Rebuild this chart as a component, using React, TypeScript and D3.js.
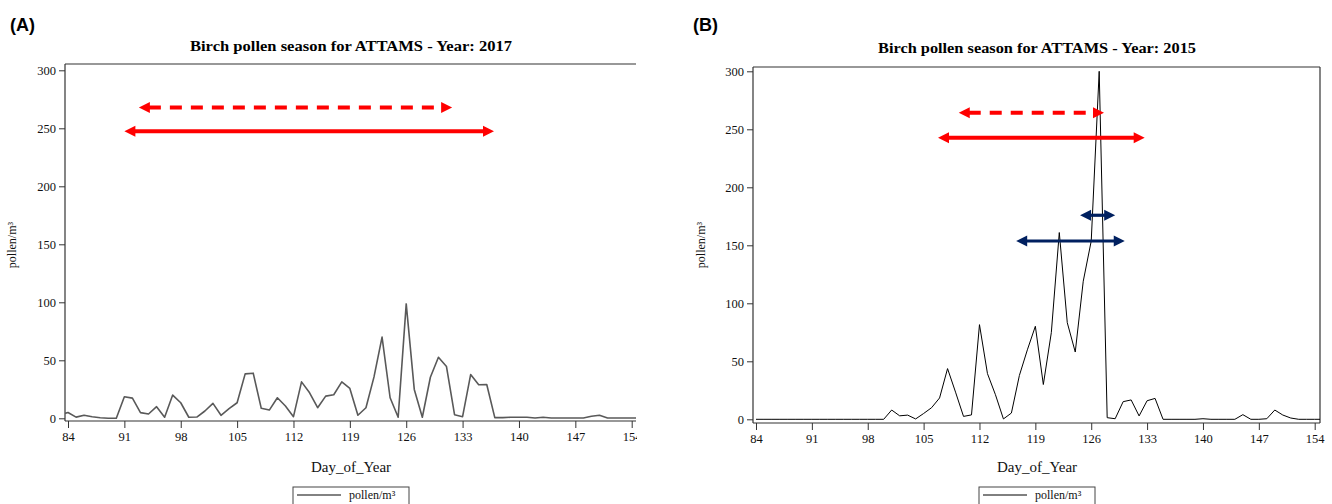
import { useEffect, useRef } from 'react';
import * as d3 from 'd3';

// Daily birch pollen counts (pollen/m³), panel A starts on day 83, panel B on day 84
const firstDay2017 = 83;
const pollen2017 = [
  3, 5, 1, 2.6, 1.4, 0.5, 0, 0, 18.6, 17.4, 4.9, 3.7, 10, 0.9, 20, 13.4, 0.9, 1.1,
  6.3, 12.9, 2.6, 8.3, 13.4, 38.3, 38.9, 8.6, 7.1, 17.7, 10.6, 1.4, 31.4, 22, 9.1,
  19.1, 20.3, 31.4, 25.7, 2.6, 9.1, 35.7, 70, 17.7, 0.9, 98.6, 24.9, 0.9, 35.4, 52.6,
  44.6, 3.1, 1.4, 37.7, 28.9, 29.1, 0.6, 0.6, 0.9, 0.9, 0.9, 0.3, 0.9, 0.3, 0.3, 0.3,
  0.3, 0.3, 1.7, 2.6, 0.3, 0.3, 0.3, 0.3, 0.3,
];

const firstDay2015 = 84;
const pollen2015 = [
  0, 0, 0, 0, 0, 0, 0, 0, 0, 0, 0, 0, 0, 0, 0, 0, 0, 8, 3, 3.6, 0.3, 5, 10, 18.4,
  43.7, 23.4, 2.5, 3.8, 81.6, 39.4, 21.2, 0.3, 5.4, 37.8, 59.9, 80.2, 30, 74.7, 161,
  83.3, 58, 119, 153.7, 300, 1.4, 0.5, 15.2, 16.7, 2.9, 16, 18, 0, 0, 0, 0, 0, 0.5, 0,
  0, 0, 0, 4, 0, 0, 0.5, 8, 3.7, 1.1, 0, 0, 0, 0,
];

const dayTicks = [84, 91, 98, 105, 112, 119, 126, 133, 140, 147, 154];
const pollenTicks = [0, 50, 100, 150, 200, 250, 300];

// season arrows: start day, end day, pollen level
type Arrow = { from: number; to: number; at: number; kind: string };
const arrows2017: Arrow[] = [
  { from: 92.8, to: 131.7, at: 268, kind: 'redDashed' },
  { from: 91.0, to: 136.9, at: 247.5, kind: 'red' },
];
const arrows2015: Arrow[] = [
  { from: 109.4, to: 127.6, at: 264.3, kind: 'redDashed' },
  { from: 106.8, to: 132.7, at: 242.8, kind: 'red' },
  { from: 124.6, to: 129.0, at: 175.9, kind: 'navy' },
  { from: 116.6, to: 130.2, at: 153.7, kind: 'navy' },
];

const arrowStyle: Record<string, { color: string; width: number; dash: string | null }> = {
  redDashed: { color: '#ff0000', width: 4, dash: '12,9' },
  red: { color: '#ff0000', width: 4, dash: null },
  navy: { color: '#002060', width: 3.2, dash: null },
};

type Layout = {
  tag: string;
  title: string;
  tagX: number;
  left: number;
  right: number;
  top: number;
  bottom: number;
  x0: number;
  x1: number;
  y0: number;
  y1: number;
  rightBorder: boolean;
  labelEdge: number;
  lineColor: string;
  lineWidth: number;
  titleY: number;
  titleLen: number;
  cx: number;
  yLabelX: number;
  legendX: number;
};

const serif = "'Liberation Serif', 'Times New Roman', serif";

function drawPanel(
  svg: d3.Selection<SVGSVGElement, unknown, null, undefined>,
  L: Layout,
  firstDay: number,
  values: number[],
  arrows: Arrow[],
) {
  const g = svg.append('g');
  const x = d3.scaleLinear().domain([84, 154]).range([L.x0, L.x1]);
  const y = d3.scaleLinear().domain([0, 300]).range([L.y0, L.y1]);

  const clipId = 'clip-' + L.tag;
  g.append('clipPath')
    .attr('id', clipId)
    .append('rect')
    .attr('x', L.left)
    .attr('y', L.top)
    .attr('width', L.right - L.left)
    .attr('height', L.bottom - L.top);

  // tick labels are cut at the panel's edge (axis group coordinates)
  const labelClip = 'lclip-' + L.tag;
  g.append('clipPath')
    .attr('id', labelClip)
    .append('rect')
    .attr('x', L.left - 20)
    .attr('y', -2)
    .attr('width', L.labelEdge - L.left + 20)
    .attr('height', 40);

  // panel tag
  g.append('text')
    .attr('x', L.tagX)
    .attr('y', 31)
    .attr('font-family', "'Liberation Sans', Arial, sans-serif")
    .attr('font-weight', 'bold')
    .attr('font-size', 18)
    .text(`(${L.tag})`);

  // title
  g.append('text')
    .attr('x', L.cx)
    .attr('y', L.titleY)
    .attr('text-anchor', 'middle')
    .attr('font-family', serif)
    .attr('font-weight', 'bold')
    .attr('font-size', 14.5)
    .attr('textLength', L.titleLen)
    .attr('lengthAdjust', 'spacingAndGlyphs')
    .text(L.title);

  // frame
  const frame = g.append('g').attr('stroke', '#333').attr('stroke-width', 1.2).attr('fill', 'none');
  frame.append('line').attr('x1', L.left).attr('x2', L.right).attr('y1', L.top).attr('y2', L.top);
  frame.append('line').attr('x1', L.left).attr('x2', L.left).attr('y1', L.top).attr('y2', L.bottom);
  frame.append('line').attr('x1', L.left).attr('x2', L.right).attr('y1', L.bottom).attr('y2', L.bottom);
  if (L.rightBorder) {
    frame.append('line').attr('x1', L.right).attr('x2', L.right).attr('y1', L.top).attr('y2', L.bottom);
  }

  // x axis
  const xa = g
    .append('g')
    .attr('transform', `translate(0,${L.bottom})`)
    .attr('clip-path', `url(#${labelClip})`)
    .call(d3.axisBottom(x).tickValues(dayTicks).tickSize(7).tickSizeOuter(0).tickPadding(4));
  xa.select('.domain').remove();
  xa.attr('font-family', serif).attr('font-size', 12.5);
  xa.selectAll('line').attr('stroke', '#333');
  xa.selectAll('text').attr('fill', '#111');

  // y axis
  const ya = g
    .append('g')
    .attr('transform', `translate(${L.left},0)`)
    .call(d3.axisLeft(y).tickValues(pollenTicks).tickSize(6).tickSizeOuter(0).tickPadding(3));
  ya.select('.domain').remove();
  ya.attr('font-family', serif).attr('font-size', 12.5);
  ya.selectAll('line').attr('stroke', '#333');
  ya.selectAll('text').attr('fill', '#111');

  // axis labels
  g.append('text')
    .attr('x', L.cx)
    .attr('y', 472)
    .attr('text-anchor', 'middle')
    .attr('font-family', serif)
    .attr('font-size', 15)
    .attr('fill', '#111')
    .text('Day_of_Year');

  g.append('text')
    .attr('transform', `translate(${L.yLabelX},245) rotate(-90)`)
    .attr('text-anchor', 'middle')
    .attr('font-family', serif)
    .attr('font-size', 12)
    .attr('fill', '#111')
    .text('pollen/m³');

  // pollen line
  const line = d3
    .line<number>()
    .x((_, i) => x(firstDay + i))
    .y((d) => y(d));
  g.append('path')
    .datum(values)
    .attr('clip-path', `url(#${clipId})`)
    .attr('fill', 'none')
    .attr('stroke', L.lineColor)
    .attr('stroke-width', L.lineWidth)
    .attr('stroke-linejoin', 'round')
    .attr('d', line);

  // season arrows
  const head = 11;
  const half = 5.5;
  arrows.forEach((a) => {
    const s = arrowStyle[a.kind];
    const xa0 = x(a.from);
    const xb0 = x(a.to);
    const yy = y(a.at);
    g.append('line')
      .attr('x1', xa0 + head - 1)
      .attr('x2', xb0 - head + 1)
      .attr('y1', yy)
      .attr('y2', yy)
      .attr('stroke', s.color)
      .attr('stroke-width', s.width)
      .attr('stroke-dasharray', s.dash);
    g.append('path')
      .attr('fill', s.color)
      .attr('d', `M${xa0},${yy}L${xa0 + head},${yy - half}L${xa0 + head},${yy + half}Z`);
    g.append('path')
      .attr('fill', s.color)
      .attr('d', `M${xb0},${yy}L${xb0 - head},${yy - half}L${xb0 - head},${yy + half}Z`);
  });

  // legend
  const lg = g.append('g').attr('transform', `translate(${L.legendX},487)`);
  lg.append('rect')
    .attr('width', 116)
    .attr('height', 20)
    .attr('fill', 'white')
    .attr('stroke', '#444')
    .attr('stroke-width', 1);
  lg.append('line')
    .attr('x1', 4)
    .attr('x2', 48)
    .attr('y1', 8)
    .attr('y2', 8)
    .attr('stroke', L.lineColor)
    .attr('stroke-width', L.lineWidth);
  lg.append('text')
    .attr('x', 56)
    .attr('y', 12)
    .attr('font-family', serif)
    .attr('font-size', 12)
    .attr('fill', '#111')
    .text('pollen/m³');
}

const layoutA: Layout = {
  tag: 'A',
  title: 'Birch pollen season for ATTAMS - Year: 2017',
  tagX: 10,
  left: 65,
  right: 636,
  top: 64,
  bottom: 421,
  x0: 68,
  x1: 631.7,
  y0: 418.3,
  y1: 70.3,
  rightBorder: false,
  labelEdge: 637,
  lineColor: '#595959',
  lineWidth: 1.6,
  titleY: 51,
  titleLen: 322,
  cx: 351,
  yLabelX: 16,
  legendX: 293,
};

const layoutB: Layout = {
  tag: 'B',
  title: 'Birch pollen season for ATTAMS - Year: 2015',
  tagX: 693,
  left: 753,
  right: 1320,
  top: 67,
  bottom: 423,
  x0: 756,
  x1: 1314.7,
  y0: 419.3,
  y1: 71.3,
  rightBorder: true,
  labelEdge: 1332,
  lineColor: '#000000',
  lineWidth: 1,
  titleY: 53,
  titleLen: 318,
  cx: 1037,
  yLabelX: 705,
  legendX: 979,
};

export default function App() {
  const svgRef = useRef<SVGSVGElement>(null);
  const width = 1332;
  const height = 504;

  useEffect(() => {
    const svg = d3.select(svgRef.current!);
    svg.selectAll('*').remove();
    drawPanel(svg, layoutA, firstDay2017, pollen2017, arrows2017);
    drawPanel(svg, layoutB, firstDay2015, pollen2015, arrows2015);
  }, []);

  return (
    <svg
      ref={svgRef}
      width={width}
      height={height}
      style={{ position: 'absolute', left: 0, top: 0, background: 'white' }}
    ></svg>
  );
}
